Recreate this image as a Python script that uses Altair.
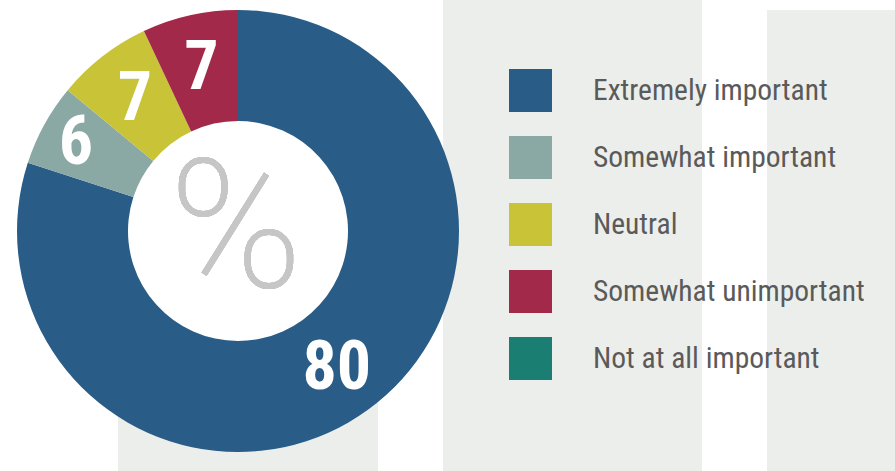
import altair as alt
import pandas as pd

categories = ["Extremely important", "Somewhat important", "Neutral",
              "Somewhat unimportant", "Not at all important"]
values = [80, 6, 7, 7, 0]
colors = ["#295c86", "#8aa8a4", "#c9c338", "#a3294a", "#1b7e73"]

df = pd.DataFrame({"category": categories, "value": values,
                   "idx": list(range(len(categories)))})

CX, CY = 238, 231
FONT = "Roboto Condensed, Roboto, sans-serif"

color = alt.Color(
    "category:N",
    scale=alt.Scale(domain=categories, range=colors),
    legend=alt.Legend(
        orient="none", legendX=509, legendY=69, title=None,
        symbolType="square", symbolSize=1849, symbolStrokeWidth=0,
        symbolOpacity=1, labelFontSize=29.5, labelFont=FONT,
        labelColor="#5a5a5a", labelOffset=41, rowPadding=24,
        padding=0, labelLimit=400,
    ),
)

stripe_color = "#eceeeb"
s1 = alt.Chart(df).mark_rect(color=stripe_color).encode(
    x=alt.value(118), x2=alt.value(378), y=alt.value(380), y2=alt.value(471))
s2 = alt.Chart(df).mark_rect(color=stripe_color).encode(
    x=alt.value(443), x2=alt.value(702), y=alt.value(0), y2=alt.value(471))
s3 = alt.Chart(df).mark_rect(color=stripe_color).encode(
    x=alt.value(767), x2=alt.value(895), y=alt.value(10), y2=alt.value(471))

arcs = alt.Chart(df).mark_arc(innerRadius=110, outerRadius=221, strokeWidth=0).encode(
    theta=alt.Theta("value:Q", stack=True),
    order=alt.Order("idx:Q"),
    x=alt.value(CX), y=alt.value(CY),
    color=color,
)

labels = alt.Chart(df).transform_window(
    cum="sum(value)", sort=[alt.SortField("idx")], frame=[None, 0]
).transform_joinaggregate(
    total="sum(value)"
).transform_calculate(
    tm="(datum.cum - datum.value / 2) / datum.total * 2 * PI",
    r="datum.category == 'Somewhat important' ? 185 : 168",
).transform_filter("datum.value > 0").mark_text(
    font=FONT, fontSize=68, fontWeight="bold", color="white",
    align="center", baseline="middle", dy=2,
).encode(
    x=alt.value(CX), y=alt.value(CY),
    theta=alt.Theta("tm:Q", scale=None, stack=False),
    radius=alt.Radius("r:Q", scale=None),
    text="value:Q",
)

pct = alt.Chart(df).mark_text(
    font="Roboto", fontWeight=200, fontSize=180, color="#c6c6c6",
    align="center", baseline="middle",
).encode(x=alt.value(CX - 2), y=alt.value(233), text=alt.value("%"))

chart = alt.layer(s1, s2, s3, arcs, labels, pct).properties(
    width=895, height=471, padding=0, autosize="none", background="white",
).configure_view(stroke=None)

chart.save("out.html", embed_options={"renderer": "svg", "actions": False})
